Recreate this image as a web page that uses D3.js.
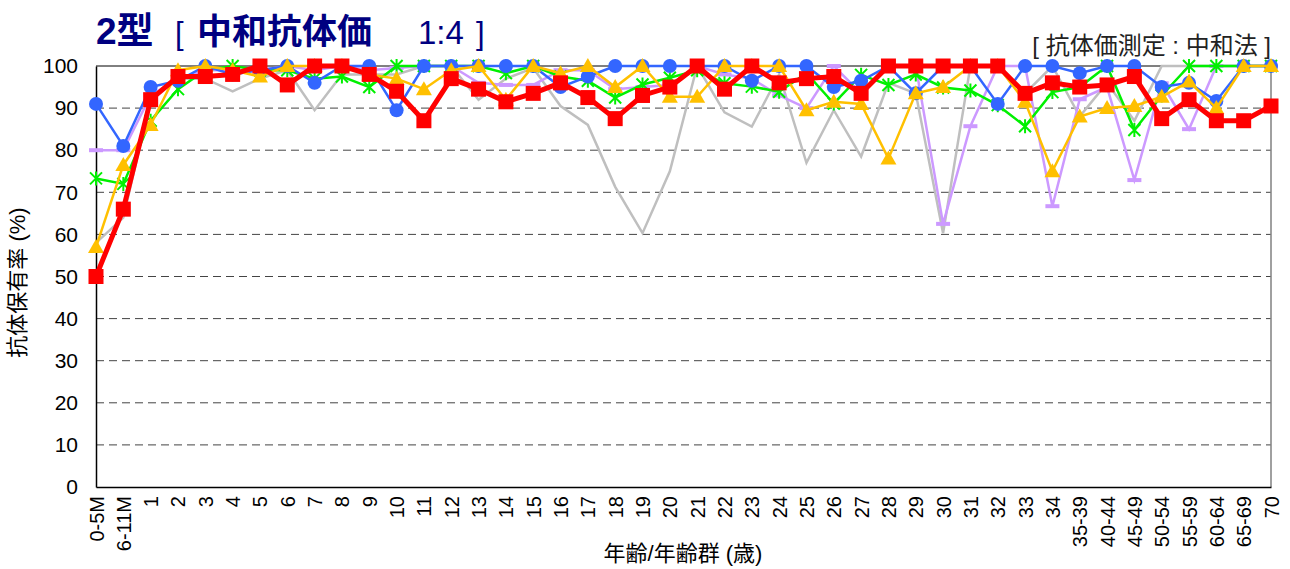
<!DOCTYPE html>
<html>
<head>
<meta charset="utf-8">
<script src="https://cdn.jsdelivr.net/npm/d3@7"></script>
<style>
  body { margin: 0; background: #fff; }
  text { font-family: "Liberation Sans", Arial, "Noto Sans CJK JP", sans-serif; }
</style>
</head>
<body>
<script>
/* Data */
var categories = ["0-5M", "6-11M", "1", "2", "3", "4", "5", "6", "7", "8", "9", "10",
	"11", "12", "13", "14", "15", "16", "17", "18", "19", "20", "21", "22", "23", "24",
	"25", "26", "27", "28", "29", "30", "31", "32", "33", "34",
	"35-39", "40-44", "45-49", "50-54", "55-59", "60-64", "65-69", "70"];

var yTicks = [0, 10, 20, 30, 40, 50, 60, 70, 80, 90, 100];

var grayValues = [58, 64, 92, 97, 97, 94, 97, 99, 89.5, 98, 98, 98, 100, 100, 92, 97, 99.5, 90.5,
	86, 71.3, 60.3, 75, 100, 89, 85.6, 98, 77, 89.5, 78.5, 96, 93.5, 60.3, 100, 100, 93.5, 100,
	88, 96, 87, 100, 100, 100, 100, 100];
var lavenderValues = [80, 80, 93, 97, 99, 99, 99, 100, 99, 100, 99, 99.5, 100, 100, 96, 95.5, 95.5,
	99, 99, 94.5, 95, 95.5, 100, 98, 97, 93, 90, 100, 93.5, 100, 100, 62.5, 85.7, 100, 100, 66.7,
	92.1, 95, 72.9, 95.9, 85, 100, 100, 100];
var greenValues = [73.3, 72, 87, 94.5, 99, 100, 99, 99, 97, 97.5, 95, 100, 100, 100, 100, 98.3, 100,
	97.5, 96.5, 92.5, 95.6, 97.2, 99, 95.9, 95.1, 93.9, 98.3, 91.1, 97.9, 95.5, 98, 94.9, 94.2, 90.7,
	85.7, 93.8, 95, 100, 84.8, 93, 100, 100, 100, 100];
var blueValues = [91, 81, 95, 96.5, 100, 98, 99, 100, 96, 100, 100, 89.5, 100, 100, 100, 100, 100,
	95, 97.5, 100, 100, 100, 100, 100, 96.5, 100, 100, 95, 96.5, 100, 93.5, 100, 100, 91, 100, 100,
	98.3, 100, 100, 95, 96, 91.7, 100, 100];
var yellowValues = [57, 76.5, 86, 99, 100, 99, 97.5, 100, 100, 100, 98, 97, 94.5, 99, 100, 92, 100,
	98.3, 100, 95, 100, 92.7, 92.7, 100, 100, 100, 89.5, 91.5, 91, 78, 93.5, 95, 100, 100, 91.5, 75,
	88, 90, 90.5, 92.7, 96.3, 90, 100, 100];
var redValues = [50, 66, 92, 97.5, 97.5, 98, 100, 95.5, 100, 100, 98, 94, 87, 97, 94.5, 91.5, 93.5,
	96, 92.5, 87.5, 93, 95, 100, 94.5, 100, 96, 97, 97.5, 93.5, 100, 100, 100, 100, 100, 93.5, 96,
	95, 95.5, 97.5, 87.5, 92, 87, 87, 90.5];

/* Display setup */
var width = 1290, height = 569,
	margin = {top: 66, right: 19, bottom: 82, left: 96},
	plotW = width - margin.left - margin.right,
	plotH = height - margin.top - margin.bottom,
	svg = d3.select("body").append("svg")
		.attr("width", width)
		.attr("height", height),
	g = svg.append("g").attr("transform", "translate(" + margin.left + "," + margin.top + ")");

var x = d3.scalePoint().domain(categories).range([0, plotW]),
	y = d3.scaleLinear().domain([0, 100]).range([plotH, 0]);

// dashed grid
g.append("g")
	.selectAll("line")
	.data(yTicks.filter(function(d) { return d > 0 && d < 100; }))
	.enter().append("line")
		.attr("x1", 0).attr("x2", plotW)
		.attr("y1", function(d) { return y(d); })
		.attr("y2", function(d) { return y(d); })
		.style("stroke", "#444")
		.style("stroke-width", 1)
		.style("stroke-dasharray", "8,5");

// frame
g.append("line").attr("x1", 0).attr("x2", plotW).attr("y1", y(100)).attr("y2", y(100))
	.style("stroke", "#000").style("stroke-width", 1);
g.append("line").attr("x1", plotW).attr("x2", plotW).attr("y1", 0).attr("y2", plotH)
	.style("stroke", "#808080").style("stroke-width", 1.5);

// y axis
var yAxis = g.append("g").call(d3.axisLeft(y).tickValues(yTicks).tickSize(0).tickPadding(18));
yAxis.select(".domain").style("stroke", "#000").style("stroke-width", 1.5);
yAxis.selectAll("text").style("font-size", "21px").style("fill", "#000")
	.style("font-family", "Liberation Sans, Arial, sans-serif");

// x axis
var xAxis = g.append("g").attr("transform", "translate(0," + plotH + ")")
	.call(d3.axisBottom(x).tickSize(0));
xAxis.select(".domain").style("stroke", "#000").style("stroke-width", 1.5);
xAxis.selectAll("text")
	.style("font-size", "20px").style("fill", "#000")
	.style("font-family", "Liberation Sans, Arial, sans-serif")
	.attr("text-anchor", "end")
	.attr("y", 0).attr("dy", "0.35em")
	.attr("transform", "translate(0,9) rotate(-90)");

/* Series */
var line = d3.line()
	.x(function(d, i) { return x(categories[i]); })
	.y(function(d) { return y(d); });

function drawSeries(values, color, lineWidth, marker) {
	var s = g.append("g");
	s.append("path")
		.datum(values)
		.attr("d", line)
		.style("fill", "none")
		.style("stroke", color)
		.style("stroke-width", lineWidth)
		.style("stroke-linejoin", "miter");
	if (!marker) return;
	var pts = s.selectAll("g.pt")
		.data(values)
		.enter().append("g")
			.attr("class", "pt")
			.attr("transform", function(d, i) { return "translate(" + x(categories[i]) + "," + y(d) + ")"; });
	marker(pts, color);
}

function circleMarker(sel, color) {
	sel.append("circle").attr("r", 7).style("fill", color);
}
function squareMarker(sel, color) {
	sel.append("rect").attr("x", -7.5).attr("y", -7.5).attr("width", 15).attr("height", 15).style("fill", color);
}
function triangleMarker(sel, color) {
	sel.append("path").attr("d", "M0,-8L8,6L-8,6Z").style("fill", color);
}
function dashMarker(sel, color) {
	sel.append("rect").attr("x", -7).attr("y", -2).attr("width", 14).attr("height", 4).style("fill", color);
}
function starMarker(sel, color) {
	sel.append("path")
		.attr("d", "M0,-7L0,7M-6,-6L6,6M-6,6L6,-6")
		.style("stroke", color).style("stroke-width", 2).style("fill", "none");
}

drawSeries(grayValues, "#BFBFBF", 2.5, null);
drawSeries(lavenderValues, "#CC99FF", 2.5, dashMarker);
drawSeries(greenValues, "#00F000", 2.5, starMarker);
drawSeries(blueValues, "#3366FF", 2.5, circleMarker);
drawSeries(yellowValues, "#FFC000", 2.5, triangleMarker);
drawSeries(redValues, "#FF0000", 5, squareMarker);

/* Texts */
var title = svg.append("text").attr("y", 44).style("fill", "#000080");
title.append("tspan").attr("x", 96).style("font-size", "37px").style("font-weight", "bold").text("2型");
title.append("tspan").attr("x", 175).style("font-size", "31px").text("[");
title.append("tspan").attr("x", 197).style("font-size", "35px").style("font-weight", "bold").text("中和抗体価");
title.append("tspan").attr("x", 418).style("font-size", "33px").text("1:4");
title.append("tspan").attr("x", 476).style("font-size", "31px").text("]");

svg.append("text")
	.attr("x", margin.left + plotW).attr("y", 54)
	.attr("text-anchor", "end")
	.style("font-size", "24px").style("fill", "#222")
	.text("[ 抗体価測定 : 中和法 ]");

svg.append("text")
	.attr("transform", "translate(25," + (margin.top + plotH / 2 + 6) + ") rotate(-90)")
	.attr("text-anchor", "middle")
	.style("font-size", "22px")
	.text("抗体保有率 (%)");

svg.append("text")
	.attr("x", 683).attr("y", 561)
	.attr("text-anchor", "middle")
	.style("font-size", "22px")
	.text("年齢/年齢群 (歳)");
</script>
</body>
</html>
